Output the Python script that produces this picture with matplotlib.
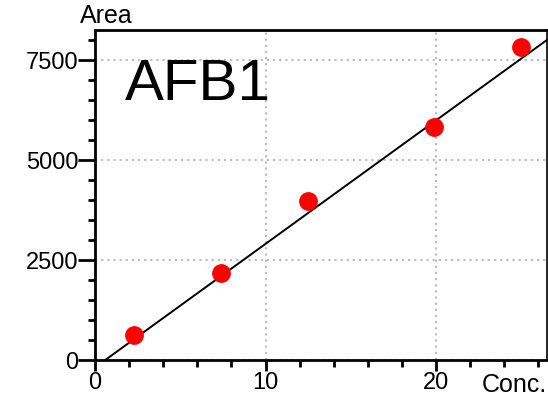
import matplotlib
matplotlib.use("Agg")
import matplotlib.pyplot as plt
from matplotlib.ticker import MultipleLocator

# calibration points (Conc., Area)
conc = [2.3, 7.4, 12.5, 19.9, 25.0]
area = [625, 2175, 3975, 5825, 7825]

# calibration line end points
line_x = [0.6, 26.5]
line_y = [0, 8000]

x_ticks = [0, 10, 20]
y_ticks = [0, 2500, 5000, 7500]

plt.rcParams["font.family"] = ["Liberation Sans", "DejaVu Sans"]

fig = plt.figure(figsize=(5.48, 3.96), dpi=100)
ax = fig.add_axes([0.1734, 0.0909, 0.8246, 0.8333])

ax.plot(line_x, line_y, color="black", lw=1.4, zorder=3)
ax.plot(conc, area, "o", color="#ff0000", ms=12.5, mec="#ff0000", zorder=4)

ax.set_xlim(0, 26.5)
ax.set_ylim(0, 8250)
ax.set_xticks(x_ticks)
ax.set_yticks(y_ticks)
ax.xaxis.set_minor_locator(MultipleLocator(2))
ax.yaxis.set_minor_locator(MultipleLocator(500))

ax.grid(True, which="major", color="#b4b4b4", ls=(0, (1.2, 2.2)), lw=1.3)
ax.set_axisbelow(True)

for s in ax.spines.values():
    s.set_linewidth(2)
ax.spines["right"].set_linewidth(1.2)

ax.tick_params(which="major", direction="out", length=8, width=2,
               labelsize=17, pad=0.5)
ax.tick_params(which="minor", direction="out", length=5, width=2)
ax.tick_params(axis="y", which="major", length=12, pad=0)

ax.text(0.065, 0.833, "AFB1", transform=ax.transAxes, fontsize=42,
        ha="left", va="center")
fig.text(0.146, 0.96, "Area", fontsize=18, ha="left", va="center")
fig.text(0.999, 0.028, "Conc.", fontsize=18, ha="right", va="center")

fig.savefig("out.png", dpi=100)
